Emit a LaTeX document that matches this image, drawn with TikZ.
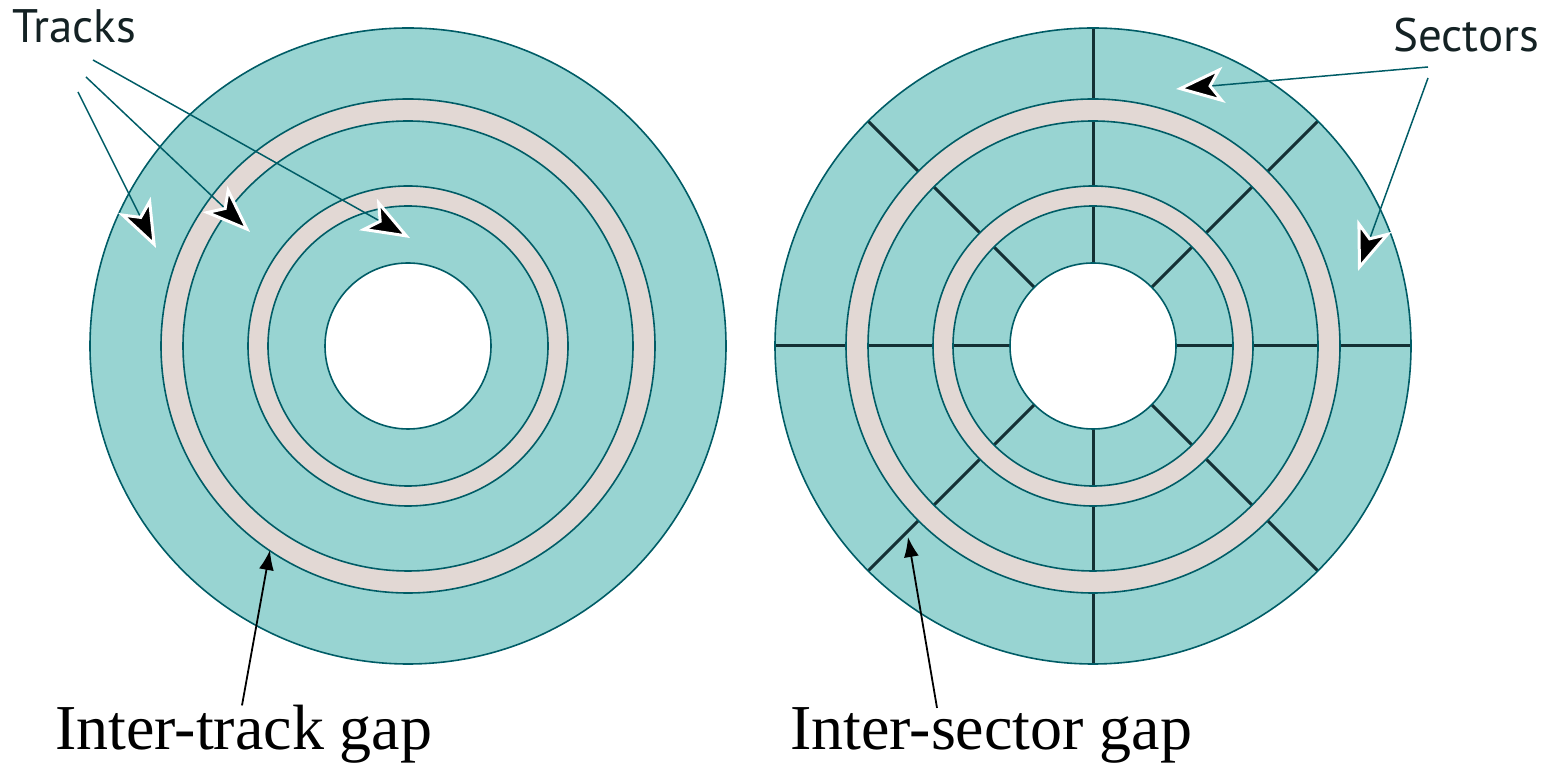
\documentclass[tikz,border=0pt]{standalone}
\usepackage{fontspec}
\setmainfont{Liberation Serif}
\setsansfont{PT Sans}
\usetikzlibrary{arrows.meta}
\definecolor{diskfill}{RGB}{152,212,210}
\definecolor{gapfill}{RGB}{226,216,212}
\definecolor{rim}{RGB}{0,92,102}
\definecolor{divline}{RGB}{20,48,52}
\definecolor{labeltext}{RGB}{20,34,36}

\begin{document}
\begin{tikzpicture}[x=1pt, y=1pt,
    disk/.style={fill=diskfill},
    rimline/.style={draw=rim, line width=1.6pt},
    gapring/.style={fill=gapfill, draw=rim, line width=1.6pt, even odd rule},
    hole/.style={fill=white, draw=rim, line width=1.6pt},
    divider/.style={draw=divline, line width=3pt},
    pointer/.style={draw=rim, line width=1.5pt, -{Stealth[length=48pt,width=36pt,inset=12pt,line width=3pt,color=white,fill=black]}},
    gaparrow/.style={line width=1.8pt, -{Latex[length=20pt,width=15pt]}},
    disklabel/.style={font=\sffamily\fontsize{47}{47}\selectfont, inner sep=0pt, text=labeltext},
    gapcaption/.style={font=\fontsize{64}{64}\selectfont, inner sep=0pt}]
    \useasboundingbox (0,0) rectangle (1555,765);

    \coordinate (L) at (408,419);
    \coordinate (R) at (1093,419);

    % tracks
    \path[disk] (L) circle (318);
    \path[gapring] (L) circle (247) (L) circle (225);
    \path[gapring] (L) circle (160) (L) circle (140);
    \path[hole] (L) circle (83);
    \path[rimline] (L) circle (318);

    % sectors
    \path[disk] (R) circle (318);
    \foreach \a in {0,45,...,315}
        \draw[divider] (R) ++(\a:83) -- ++(\a:235);
    \path[gapring] (R) circle (247) (R) circle (225);
    \path[gapring] (R) circle (160) (R) circle (140);
    \path[hole] (R) circle (83);
    \path[rimline] (R) circle (318);

    \node[disklabel, anchor=base west] (tracks) at (12,722) {Tracks};
    \node[disklabel, anchor=base west] (sectors) at (1393,713) {Sectors};
    \node[gapcaption, anchor=base west] (trackgap) at (55,15) {Inter-track gap};
    \node[gapcaption, anchor=base west] (sectorgap) at (790,15) {Inter-sector gap};

    \coordinate (t1) at (78,673);
    \coordinate (t2) at (86,688);
    \coordinate (t3) at (93,705);
    \coordinate (t1end) at (156,517);
    \coordinate (t2end) at (250,533);
    \coordinate (t3end) at (410,527);
    \coordinate (s1) at (1428,698);
    \coordinate (s2) at (1428,687);
    \coordinate (s1end) at (1176,676);
    \coordinate (s2end) at (1358,494);
    \coordinate (tgap) at (270,215);
    \coordinate (sgap) at (908,228);

    \draw[pointer] (t1)--(t1end);
    \draw[pointer] (t2)--(t2end);
    \draw[pointer] (t3)--(t3end);
    \draw[pointer] (s1)--(s1end);
    \draw[pointer] (s2)--(s2end);
    \draw[gaparrow] (trackgap.north -| 242,0) -- (tgap);
    \draw[gaparrow] (sectorgap.north -| 937,0) -- (sgap);
\end{tikzpicture}
\end{document}
